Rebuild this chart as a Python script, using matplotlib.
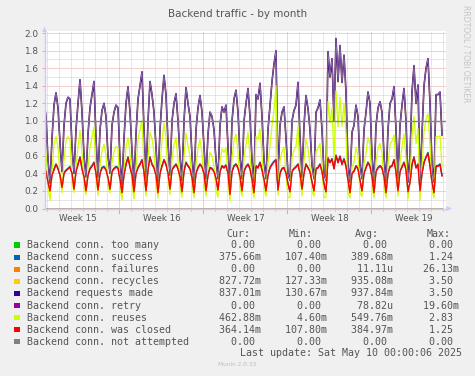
import numpy as np
import matplotlib
matplotlib.use('Agg')
import matplotlib.pyplot as plt
from matplotlib.patches import Rectangle, Polygon
from matplotlib.lines import Line2D

# ---------------- data ----------------
start_day = -6.283      # first sample, in days relative to the start of week 16
step_days = 1.0 / 6.0   # one sample every 4 hours

requests_made = [
    1.22, 1.05, 0.55,
    0.29, 0.80, 1.18, 1.32, 1.15, 0.75,
    0.42, 0.95, 1.20, 1.27, 1.25, 0.70,
    0.40, 0.90, 1.20, 1.47, 1.10, 0.60,
    0.36, 0.85, 1.15, 1.30, 1.45, 0.80,
    0.36, 0.90, 1.12, 1.20, 1.05, 0.60,
    0.40, 0.95, 1.10, 1.18, 1.15, 0.55,
    0.28, 0.80, 1.20, 1.39, 1.10, 0.65,
    0.30, 0.85, 1.25, 1.40, 1.56, 0.90,
    0.34, 1.00, 1.45, 1.30, 1.10, 0.70,
    0.30, 0.90, 1.25, 1.52, 1.30, 0.75,
    0.38, 1.00, 1.20, 1.31, 1.00, 0.60,
    0.32, 1.00, 1.38, 1.20, 1.05, 0.60,
    0.30, 0.90, 1.15, 1.29, 1.10, 0.70,
    0.34, 0.85, 1.10, 1.05, 0.90, 0.55,
    0.34, 0.95, 1.16, 1.10, 1.18, 0.70,
    0.25, 1.00, 1.25, 1.35, 1.10, 0.60,
    0.34, 1.00, 1.20, 1.37, 1.05, 0.55,
    0.30, 1.30, 1.25, 1.43, 1.05, 0.55,
    0.34, 0.90, 1.18, 1.45, 1.65, 1.80,
    0.36, 0.95, 1.10, 1.16, 0.80, 0.40,
    0.32, 1.00, 1.12, 1.18, 1.44, 0.80,
    0.36, 0.95, 1.29, 1.14, 0.90, 0.50,
    0.34, 1.10, 1.15, 1.24, 0.90, 0.40,
    0.32, 1.79, 1.50, 1.71, 1.00, 1.94,
    1.45, 1.86, 1.44, 1.75, 1.33, 0.50,
    0.30, 0.87, 0.95, 1.18, 1.05, 0.50,
    0.34, 0.90, 1.10, 1.33, 1.20, 0.60,
    0.30, 0.95, 1.15, 1.22, 1.10, 0.60,
    0.30, 0.90, 1.20, 1.25, 1.39, 0.90,
    0.34, 0.95, 1.18, 1.37, 1.00, 0.30,
    0.60, 1.33, 1.63, 1.20, 1.41, 0.30,
    0.84, 1.40, 1.60, 1.71, 1.20, 0.50,
    0.30, 1.30, 1.30, 1.33, 0.84,
]

conn_recycles = [
    1.21, 1.04, 0.55,
    0.29, 0.79, 1.17, 1.31, 1.14, 0.75,
    0.42, 0.94, 1.19, 1.26, 1.24, 0.70,
    0.40, 0.89, 1.19, 1.46, 1.09, 0.60,
    0.36, 0.84, 1.14, 1.29, 1.44, 0.80,
    0.36, 0.89, 1.11, 1.19, 1.04, 0.60,
    0.40, 0.94, 1.09, 1.17, 1.14, 0.55,
    0.28, 0.79, 1.19, 1.38, 1.09, 0.65,
    0.30, 0.84, 1.24, 1.39, 1.55, 0.89,
    0.34, 0.99, 1.44, 1.29, 1.09, 0.70,
    0.30, 0.89, 1.24, 1.51, 1.29, 0.75,
    0.38, 0.99, 1.19, 1.30, 0.99, 0.60,
    0.32, 0.99, 1.37, 1.19, 1.04, 0.60,
    0.30, 0.89, 1.14, 1.28, 1.09, 0.70,
    0.34, 0.84, 1.09, 1.04, 0.89, 0.55,
    0.34, 0.94, 1.15, 1.09, 1.17, 0.70,
    0.25, 0.99, 1.24, 1.34, 1.09, 0.60,
    0.34, 0.99, 1.19, 1.36, 1.04, 0.55,
    0.30, 1.29, 1.24, 1.42, 1.04, 0.55,
    0.34, 0.89, 1.17, 1.44, 1.64, 1.79,
    0.36, 0.94, 1.09, 1.15, 0.79, 0.40,
    0.32, 0.99, 1.11, 1.17, 1.43, 0.79,
    0.36, 0.94, 1.28, 1.13, 0.89, 0.50,
    0.34, 1.09, 1.14, 1.23, 0.89, 0.40,
    0.32, 1.78, 1.49, 1.70, 0.99, 1.93,
    1.44, 1.85, 1.43, 1.74, 1.32, 0.50,
    0.30, 0.86, 0.94, 1.17, 1.04, 0.50,
    0.34, 0.89, 1.09, 1.32, 1.19, 0.60,
    0.30, 0.94, 1.14, 1.21, 1.09, 0.60,
    0.30, 0.89, 1.19, 1.24, 1.38, 0.89,
    0.34, 0.94, 1.17, 1.36, 0.99, 0.30,
    0.60, 1.32, 1.62, 1.19, 1.40, 0.30,
    0.84, 1.39, 1.59, 1.70, 1.19, 0.50,
    0.30, 1.29, 1.29, 1.32, 0.83,
]

conn_reuses = [
    0.75, 0.63, 0.25,
    0.09, 0.42, 0.74, 0.82, 0.70, 0.37,
    0.18, 0.55, 0.77, 0.82, 0.78, 0.30,
    0.18, 0.48, 0.70, 0.89, 0.65, 0.24,
    0.16, 0.47, 0.70, 0.82, 0.93, 0.40,
    0.15, 0.50, 0.66, 0.73, 0.61, 0.25,
    0.18, 0.53, 0.65, 0.71, 0.69, 0.22,
    0.10, 0.42, 0.70, 0.81, 0.63, 0.27,
    0.11, 0.45, 0.79, 0.90, 1.01, 0.48,
    0.14, 0.56, 0.87, 0.80, 0.64, 0.32,
    0.12, 0.50, 0.77, 0.97, 0.80, 0.35,
    0.16, 0.56, 0.73, 0.81, 0.55, 0.24,
    0.13, 0.58, 0.86, 0.72, 0.60, 0.25,
    0.12, 0.50, 0.69, 0.79, 0.63, 0.30,
    0.14, 0.47, 0.64, 0.60, 0.48, 0.21,
    0.13, 0.53, 0.68, 0.64, 0.69, 0.30,
    0.09, 0.58, 0.77, 0.85, 0.64, 0.24,
    0.14, 0.58, 0.73, 0.87, 0.60, 0.22,
    0.12, 0.82, 0.79, 0.91, 0.61, 0.22,
    0.14, 0.52, 0.72, 0.95, 1.12, 1.40,
    0.15, 0.55, 0.65, 0.70, 0.40, 0.12,
    0.13, 0.58, 0.67, 0.71, 0.94, 0.40,
    0.14, 0.55, 0.79, 0.68, 0.48, 0.20,
    0.14, 0.65, 0.69, 0.74, 0.48, 0.12,
    0.13, 1.22, 0.98, 1.15, 0.55, 1.34,
    0.93, 1.27, 0.94, 1.19, 0.85, 0.18,
    0.12, 0.47, 0.53, 0.70, 0.60, 0.18,
    0.14, 0.50, 0.64, 0.81, 0.72, 0.24,
    0.12, 0.53, 0.69, 0.74, 0.64, 0.24,
    0.12, 0.50, 0.73, 0.77, 0.84, 0.48,
    0.14, 0.53, 0.71, 0.85, 0.56, 0.11,
    0.30, 0.83, 1.05, 0.74, 0.91, 0.10,
    0.44, 0.88, 1.02, 1.08, 0.72, 0.20,
    0.12, 0.82, 0.82, 0.83, 0.47,
]

conn_closed = [
    0.47, 0.42, 0.30,
    0.20, 0.38, 0.44, 0.50, 0.45, 0.38,
    0.24, 0.40, 0.43, 0.45, 0.47, 0.40,
    0.22, 0.42, 0.50, 0.58, 0.45, 0.36,
    0.20, 0.38, 0.45, 0.48, 0.52, 0.40,
    0.21, 0.40, 0.46, 0.47, 0.44, 0.35,
    0.22, 0.42, 0.45, 0.47, 0.46, 0.33,
    0.18, 0.38, 0.50, 0.58, 0.47, 0.38,
    0.19, 0.40, 0.46, 0.50, 0.55, 0.42,
    0.20, 0.44, 0.58, 0.50, 0.46, 0.38,
    0.18, 0.40, 0.48, 0.55, 0.50, 0.40,
    0.22, 0.44, 0.47, 0.50, 0.45, 0.36,
    0.19, 0.42, 0.52, 0.48, 0.45, 0.35,
    0.18, 0.40, 0.46, 0.50, 0.47, 0.40,
    0.20, 0.38, 0.46, 0.45, 0.42, 0.34,
    0.21, 0.42, 0.48, 0.46, 0.49, 0.40,
    0.16, 0.42, 0.48, 0.50, 0.46, 0.36,
    0.20, 0.42, 0.47, 0.50, 0.45, 0.33,
    0.18, 0.48, 0.46, 0.52, 0.44, 0.33,
    0.20, 0.38, 0.46, 0.50, 0.53, 0.55,
    0.21, 0.40, 0.45, 0.46, 0.40, 0.28,
    0.19, 0.42, 0.45, 0.47, 0.50, 0.40,
    0.22, 0.40, 0.50, 0.46, 0.42, 0.30,
    0.20, 0.45, 0.46, 0.50, 0.42, 0.28,
    0.19, 0.57, 0.52, 0.56, 0.45, 0.60,
    0.52, 0.59, 0.50, 0.56, 0.48, 0.32,
    0.18, 0.40, 0.42, 0.48, 0.45, 0.32,
    0.20, 0.40, 0.46, 0.52, 0.48, 0.36,
    0.18, 0.42, 0.46, 0.48, 0.46, 0.36,
    0.18, 0.40, 0.47, 0.48, 0.55, 0.42,
    0.20, 0.42, 0.47, 0.52, 0.44, 0.19,
    0.30, 0.50, 0.58, 0.46, 0.50, 0.20,
    0.40, 0.52, 0.58, 0.63, 0.48, 0.30,
    0.18, 0.48, 0.48, 0.50, 0.37,
]

conn_success = [
    0.48, 0.43, 0.30,
    0.20, 0.39, 0.45, 0.51, 0.46, 0.38,
    0.24, 0.41, 0.44, 0.46, 0.48, 0.40,
    0.22, 0.43, 0.51, 0.59, 0.46, 0.36,
    0.20, 0.39, 0.46, 0.49, 0.53, 0.41,
    0.21, 0.41, 0.47, 0.48, 0.45, 0.35,
    0.22, 0.43, 0.46, 0.48, 0.47, 0.33,
    0.18, 0.39, 0.51, 0.59, 0.48, 0.38,
    0.19, 0.41, 0.47, 0.51, 0.56, 0.42,
    0.20, 0.45, 0.59, 0.51, 0.47, 0.38,
    0.18, 0.41, 0.49, 0.56, 0.51, 0.40,
    0.22, 0.45, 0.48, 0.51, 0.46, 0.36,
    0.19, 0.43, 0.53, 0.49, 0.46, 0.35,
    0.18, 0.41, 0.47, 0.51, 0.48, 0.40,
    0.20, 0.39, 0.47, 0.46, 0.43, 0.34,
    0.21, 0.43, 0.49, 0.47, 0.50, 0.40,
    0.16, 0.43, 0.49, 0.51, 0.47, 0.36,
    0.20, 0.43, 0.48, 0.51, 0.46, 0.33,
    0.18, 0.49, 0.47, 0.53, 0.45, 0.33,
    0.20, 0.39, 0.47, 0.51, 0.54, 0.56,
    0.21, 0.41, 0.46, 0.47, 0.41, 0.28,
    0.19, 0.43, 0.46, 0.48, 0.51, 0.40,
    0.22, 0.41, 0.51, 0.47, 0.43, 0.30,
    0.20, 0.46, 0.47, 0.51, 0.43, 0.28,
    0.19, 0.58, 0.53, 0.57, 0.46, 0.61,
    0.53, 0.60, 0.51, 0.57, 0.49, 0.32,
    0.18, 0.41, 0.43, 0.49, 0.46, 0.32,
    0.20, 0.41, 0.47, 0.53, 0.49, 0.36,
    0.18, 0.43, 0.47, 0.49, 0.47, 0.36,
    0.18, 0.41, 0.48, 0.49, 0.56, 0.42,
    0.20, 0.43, 0.48, 0.53, 0.45, 0.19,
    0.30, 0.51, 0.59, 0.47, 0.51, 0.20,
    0.40, 0.53, 0.59, 0.64, 0.49, 0.30,
    0.18, 0.49, 0.49, 0.51, 0.38,
]

n_samples = len(requests_made)
conn_too_many = [0.0] * n_samples
conn_failures = [0.0] * n_samples
conn_retry = [0.0] * n_samples
conn_not_attempted = [0.0] * n_samples

series_labels = [
    "Backend conn. too many", "Backend conn. success", "Backend conn. failures",
    "Backend conn. recycles", "Backend requests made", "Backend conn. retry",
    "Backend conn. reuses", "Backend conn. was closed", "Backend conn. not attempted",
]
series_colors = ["#00CC00", "#0066B3", "#FF8000", "#FFCC00", "#330099",
                 "#990099", "#CCFF00", "#FF0000", "#808080"]
cur_vals = ["0.00", "375.66m", "0.00", "827.72m", "837.01m", "0.00", "462.88m", "364.14m", "0.00"]
min_vals = ["0.00", "107.40m", "0.00", "127.33m", "130.67m", "0.00", "4.60m", "107.80m", "0.00"]
avg_vals = ["0.00", "389.68m", "11.11u", "935.08m", "937.84m", "78.82u", "549.76m", "384.97m", "0.00"]
max_vals = ["0.00", "1.24", "26.13m", "3.50", "3.50", "19.60m", "2.83", "1.25", "0.00"]

week_labels = ["Week 15", "Week 16", "Week 17", "Week 18", "Week 19"]
week_centers = [-3.5, 3.5, 10.5, 17.5, 24.5]
week_bounds = [0, 7, 14, 21]
y_ticks = [0.0, 0.2, 0.4, 0.6, 0.8, 1.0, 1.2, 1.4, 1.6, 1.8, 2.0]

title = "Backend traffic - by month"
last_update = "Last update: Sat May 10 00:00:06 2025"

# ---------------- figure ----------------
W, H = 475, 376
fig = plt.figure(figsize=(W / 100, H / 100), dpi=100, facecolor="#F0F0F0")

def fx(x):
    return x / W

def fy(y):
    return 1 - y / H

TXT = "#555555"
AX_L, AX_R, AX_T, AX_B = 45, 446, 31, 208.5
ax = fig.add_axes([fx(AX_L), fy(AX_B), (AX_R - AX_L) / W, (AX_B - AX_T) / H])
ax.set_facecolor("white")
px_per_day = 12.0
day0_px = 119.4
ax.set_xlim((AX_L - day0_px) / px_per_day, (AX_R - day0_px) / px_per_day)
ax.set_ylim(0, 2.025)
for s in ax.spines.values():
    s.set_visible(False)

dot = (0, (1, 1))
GRID_MIN = "#cfcfcf"
GRID_MAJ = "#eaa0a0"
# horizontal grid
for v in np.arange(0.1, 2.01, 0.1):
    is_major = abs(round(v * 10) % 2) == 0
    ax.axhline(v, color=GRID_MAJ if is_major else GRID_MIN, lw=0.72, ls=dot, zorder=1)
# vertical grid (days and weeks)
xmin, xmax = ax.get_xlim()
for d in range(int(np.floor(xmin)), int(np.ceil(xmax)) + 1):
    if d <= xmin or d >= xmax:
        continue
    if d in week_bounds:
        ax.axvline(d, color=GRID_MAJ, lw=0.72, ls=dot, zorder=1)
        ax.plot([d, d], [0, -4 / 87.6], color=GRID_MAJ, lw=0.72, clip_on=False, zorder=1)
    else:
        ax.axvline(d, color=GRID_MIN, lw=0.72, ls=dot, zorder=1)
        ax.plot([d, d], [0, -2 / 87.6], color=GRID_MIN, lw=0.72, clip_on=False, zorder=1)

t = start_day + np.arange(n_samples) * step_days
all_series = [conn_too_many, conn_success, conn_failures, conn_recycles, requests_made,
              conn_retry, conn_reuses, conn_closed, conn_not_attempted]
for i, (vals, col) in enumerate(zip(all_series, series_colors)):
    z = 2 + i * 0.1
    if i == 4:
        # purple line with the lighter mauve core seen in the reference
        ax.plot(t, vals, color=col, lw=1.15, zorder=z, solid_joinstyle="round")
        ax.plot(t, vals, color="#a48c9c", lw=0.55, alpha=0.9, zorder=z + 0.01,
                solid_joinstyle="round")
    elif i == 6:
        ax.plot(t, vals, color=col, lw=0.9, zorder=z, solid_joinstyle="round")
    else:
        ax.plot(t, vals, color=col, lw=1.0, zorder=z, solid_joinstyle="round")

ax.axhline(1.0, color="#858585", lw=1.0, zorder=4)

# ticks
ax.set_yticks(y_ticks)
ax.set_yticklabels([f"{v:.1f}" for v in y_ticks], fontsize=6.4, color=TXT)
ax.tick_params(axis="y", length=2, width=0.7, color=GRID_MAJ, pad=3)
ax.set_xticks(week_centers)
ax.set_xticklabels(week_labels, fontsize=6.3, color=TXT)
ax.tick_params(axis="x", length=0, pad=4)

# axis lines and arrows
AXC = "#C8CDF2"
fig.add_artist(Line2D([fx(44.5), fx(44.5)], [fy(AX_B + 0.5), fy(31)], color=AXC, lw=1.0))
fig.add_artist(Line2D([fx(44.5), fx(447)], [fy(AX_B), fy(AX_B)], color=AXC, lw=1.0))
fig.add_artist(Polygon([[fx(42.2), fy(32)], [fx(46.8), fy(32)], [fx(44.5), fy(26.5)]],
                       closed=True, color=AXC, lw=0))
fig.add_artist(Polygon([[fx(446.5), fy(AX_B - 2.5)], [fx(446.5), fy(AX_B + 2.5)], [fx(452), fy(AX_B)]],
                       closed=True, color=AXC, lw=0))

# title and side text
fig.text(0.5, fy(14), title, ha="center", va="center", fontsize=7.5, color=TXT)
fig.text(fx(466), fy(54), "RRDTOOL / TOBI OETIKER", rotation=270, ha="center", va="center",
         fontsize=5.5, color="#c4c4c4")

# legend
MONO = "DejaVu Sans Mono"
LFS = 7.2
x0 = 26.7
fig.text(fx(226), fy(234), "Cur:", ha="left", va="center", fontsize=LFS, family=MONO, color=TXT)
fig.text(fx(288.3), fy(234), "Min:", ha="left", va="center", fontsize=LFS, family=MONO, color=TXT)
fig.text(fx(355), fy(234), "Avg:", ha="left", va="center", fontsize=LFS, family=MONO, color=TXT)
fig.text(fx(426.7), fy(234), "Max:", ha="left", va="center", fontsize=LFS, family=MONO, color=TXT)

def field(v):
    if not v[-1].isalpha():
        v = v + " "
    return v.rjust(7)

for k in range(len(series_labels)):
    yk = 245.3 + 12.05 * k
    line = (series_labels[k].ljust(32) + field(cur_vals[k]) + "    " + field(min_vals[k]) +
            "    " + field(avg_vals[k]) + "    " + field(max_vals[k]))
    fig.text(fx(x0), fy(yk), line, ha="left", va="center", fontsize=LFS, family=MONO, color=TXT)
    fig.add_artist(Rectangle((fx(14), fy(yk + 2.7)), 5.5 / W, 5.5 / H, color=series_colors[k], lw=0))

fig.text(fx(461.7), fy(353.5), last_update, ha="right", va="center", fontsize=LFS, family=MONO, color=TXT)
fig.text(fx(237), fy(364), "Munin 2.0.33", ha="center", va="center", fontsize=4.2, color="#bdbdbd")

fig.savefig("out.png", dpi=100, facecolor=fig.get_facecolor())
